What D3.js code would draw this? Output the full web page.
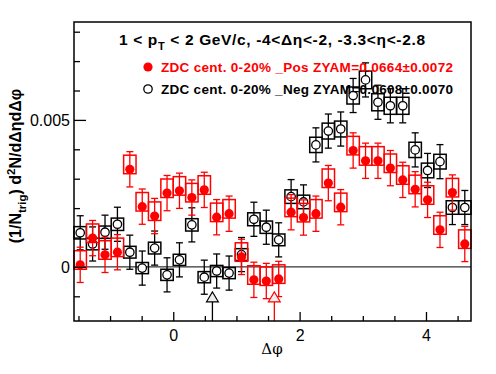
<!DOCTYPE html>
<html><head><meta charset="utf-8">
<script src="https://cdn.jsdelivr.net/npm/d3@7"></script>
<style>body{margin:0;background:#fff}svg{display:block;font-family:"Liberation Sans",Arial,Helvetica,sans-serif}</style>
</head><body>
<script>
// ---- data ----
const nBins = 32;
const xDomain = [-Math.PI/2, 3*Math.PI/2];
const yDomain = [-0.00184, 0.00833];
const xMajorTicks = [0, 2, 4];
const yMajorTicks = [0, 0.005];
const yTickLabels = ["0", "0.005"];
const posValues = [0.00007,0.00098,0.00041,0.00050,0.00332,0.00205,0.00173,0.00251,
  0.00259,0.00236,0.00262,0.00169,0.00181,0.00034,-0.00044,-0.00048,
  -0.00041,0.00186,0.00168,0.00181,0.00285,0.00203,0.00396,0.00361,
  0.00361,0.00336,0.00296,0.00264,0.00228,0.00126,0.00253,0.00078];
const negValues = [0.00116,0.00078,0.00118,0.00145,0.00050,-0.00004,0.00064,-0.00027,
  0.00024,0.00143,-0.00035,-0.00014,-0.00021,0.00042,0.00162,0.00135,
  0.00092,0.00239,0.00221,0.00415,0.00462,0.00469,0.00583,0.00636,
  0.00560,0.00548,0.00548,0.00398,0.00328,0.00358,0.00202,0.00202];
const posStat = 0.0006, negStat = 0.00058;
const posSysUp = 0.00048, posSysDown = 0.00015;
const negSys = [0.00021,0.00020,0.00021,0.00021,0.00020,0.00019,0.00020,0.00019,
  0.00019,0.00021,0.00019,0.00019,0.00019,0.00020,0.00022,0.00021,
  0.00020,0.00023,0.00023,0.00026,0.00027,0.00027,0.00029,0.00030,
  0.00029,0.00029,0.00029,0.00026,0.00025,0.00025,0.00023,0.00023];
const zyamPos = [0.62, 1.6];       // dphi of ZYAM minimum: neg, pos
const zyamTip = -0.00085;
const titleText = ["1 < p", "T", " < 2 GeV/c, -4<\u0394\u03b7<-2, -3.3<\u03b7<-2.8"];
const legendLabels = ["ZDC cent. 0-20% _Pos ZYAM=0.0664\u00b10.0072",
                      "ZDC cent. 0-20% _Neg ZYAM=0.0608\u00b10.0070"];

// ---- layout ----
const W = 496, H = 374;
const m = {l:74, r:25, t:22, b:53};
const svg = d3.select("body").append("svg").attr("width", W).attr("height", H);
const x = d3.scaleLinear().domain(xDomain).range([m.l, W - m.r]);
const y = d3.scaleLinear().domain(yDomain).range([H - m.b, m.t]);
const bw = (xDomain[1]-xDomain[0])/nBins;
const centers = d3.range(nBins).map(i => xDomain[0] + (i+0.5)*bw);

// zero line
svg.append("line").attr("x1", x(xDomain[0])).attr("x2", x(xDomain[1]))
  .attr("y1", y(0)).attr("y2", y(0)).attr("stroke", "#000").attr("stroke-width", 1);

function drawSeries(vals, stat, su, sd, color, filled) {
  const g = svg.append("g");
  g.selectAll("rect").data(vals).join("rect")
    .attr("x", (d,i) => x(centers[i]-bw/2)).attr("width", (d,i) => x(centers[i]+bw/2)-x(centers[i]-bw/2))
    .attr("y", (d,i) => y(d+su[i])).attr("height", (d,i) => y(d-sd[i])-y(d+su[i]))
    .attr("fill", "none").attr("stroke", color).attr("stroke-width", 1.5);
  const eb = g.selectAll("g.eb").data(vals).join("g").attr("class","eb");
  eb.append("line").attr("x1",(d,i)=>x(centers[i])).attr("x2",(d,i)=>x(centers[i]))
    .attr("y1", d=>y(d+stat)).attr("y2", d=>y(d-stat)).attr("stroke", color).attr("stroke-width",1.3);
  [1,-1].forEach(s => eb.append("line").attr("x1",(d,i)=>x(centers[i])-3.5).attr("x2",(d,i)=>x(centers[i])+3.5)
    .attr("y1", d=>y(d+s*stat)).attr("y2", d=>y(d+s*stat)).attr("stroke", color).attr("stroke-width",1.3));
  g.selectAll("circle").data(vals).join("circle")
    .attr("cx",(d,i)=>x(centers[i])).attr("cy", d=>y(d))
    .attr("r", filled ? 4.6 : 4.2)
    .attr("fill", filled ? color : "#fff").attr("stroke", color).attr("stroke-width", filled ? 0 : 1.3);
}
drawSeries(negValues, negStat, negSys, negSys, "#000", false);
drawSeries(posValues, posStat, posValues.map(()=>posSysUp), posValues.map(()=>posSysDown), "#f00", true);

// ZYAM arrows
[["#000", zyamPos[0]], ["#f00", zyamPos[1]]].forEach(([c, p]) => {
  const cx = x(p), ty = y(zyamTip);
  svg.append("line").attr("x1", cx).attr("x2", cx).attr("y1", ty+10).attr("y2", y(yDomain[0]))
    .attr("stroke", c).attr("stroke-width", 1.3);
  svg.append("path").attr("d", `M${cx},${ty} L${cx-6},${ty+10} L${cx+6},${ty+10} Z`)
    .attr("fill", "#eee").attr("stroke", c).attr("stroke-width", 1.1);
});

// frame
svg.append("rect").attr("x", m.l).attr("y", m.t).attr("width", W-m.l-m.r).attr("height", H-m.t-m.b)
  .attr("fill","none").attr("stroke","#000").attr("stroke-width",1.5);

// x axis
const isMaj = (arr, d) => arr.some(t => Math.abs(t-d)<1e-9);
const xAx = svg.append("g").attr("transform", `translate(0,${H-m.b})`);
xAx.call(d3.axisBottom(x).tickValues(d3.range(-1.5, 4.51, 0.5)).tickSize(0).tickFormat(""));
xAx.select(".domain").remove();
xAx.selectAll(".tick").append("line").attr("y1", 0)
  .attr("y2", d => isMaj(xMajorTicks, d) ? -9 : -5).attr("stroke","#000").attr("stroke-width",1.3);
xAx.selectAll(".tick").filter(d => isMaj(xMajorTicks, d))
  .append("text").attr("y", 20).attr("fill","#000").attr("font-size", 16).attr("text-anchor","middle")
  .attr("font-family","Liberation Sans, Arial, sans-serif").text(d => d3.format("d")(d));

// y axis
const yAx = svg.append("g").attr("transform", `translate(${m.l},0)`);
yAx.call(d3.axisLeft(y).tickValues(d3.range(-0.001, 0.00801, 0.001)).tickSize(0).tickFormat(""));
yAx.select(".domain").remove();
yAx.selectAll(".tick").append("line").attr("x1", 0)
  .attr("x2", d => isMaj(yMajorTicks, d) ? 12 : 6).attr("stroke","#000").attr("stroke-width",1.3);
yAx.selectAll(".tick").filter(d => isMaj(yMajorTicks, d))
  .append("text").attr("x", -4).attr("dy", "0.36em").attr("fill","#000").attr("font-size", 16).attr("text-anchor","end")
  .attr("font-family","Liberation Sans, Arial, sans-serif")
  .text(d => yTickLabels[yMajorTicks.findIndex(t => Math.abs(t-d)<1e-9)]);

// axis titles
svg.append("text").attr("x", 272).attr("y", 354).attr("text-anchor","middle").attr("font-size", 15)
  .attr("font-family","DejaVu Serif, serif").text("\u0394\u03c6");
const yt = svg.append("text").attr("transform","translate(21,166) rotate(-90)").attr("text-anchor","middle")
  .attr("font-size",16).attr("font-weight","bold");
yt.append("tspan").text("(1/N");
yt.append("tspan").attr("font-size",11.5).attr("dy",5).text("trig");
yt.append("tspan").attr("dy",-5).text(") d");
yt.append("tspan").attr("font-size",11.5).attr("dy",-6).text("2");
yt.append("tspan").attr("dy",6).text("N/d\u0394\u03b7d\u0394\u03c6");

// title
const tt = svg.append("text").attr("x", 119).attr("y", 45).attr("font-size", 15.5).attr("font-weight","bold")
  .attr("textLength", 306).attr("lengthAdjust", "spacing");
tt.append("tspan").text(titleText[0]);
tt.append("tspan").attr("font-size",11).attr("dy",5).text(titleText[1]);
tt.append("tspan").attr("dy",-5).text(titleText[2]);

// legend
const lg = [[legendLabels[0], "#f00", true, 67], [legendLabels[1], "#000", false, 89]];
lg.forEach(([t, c, f, ly]) => {
  svg.append("circle").attr("cx", 148).attr("cy", ly).attr("r", f ? 4.6 : 4.2)
    .attr("fill", f ? c : "#fff").attr("stroke", c).attr("stroke-width", f ? 0 : 1.3);
  svg.append("text").attr("x", 161).attr("y", ly+5).attr("font-size", 13.5).attr("font-weight","bold")
    .attr("textLength", 292).attr("lengthAdjust", "spacing").attr("fill", c).text(t);
});
</script>
</body></html>
